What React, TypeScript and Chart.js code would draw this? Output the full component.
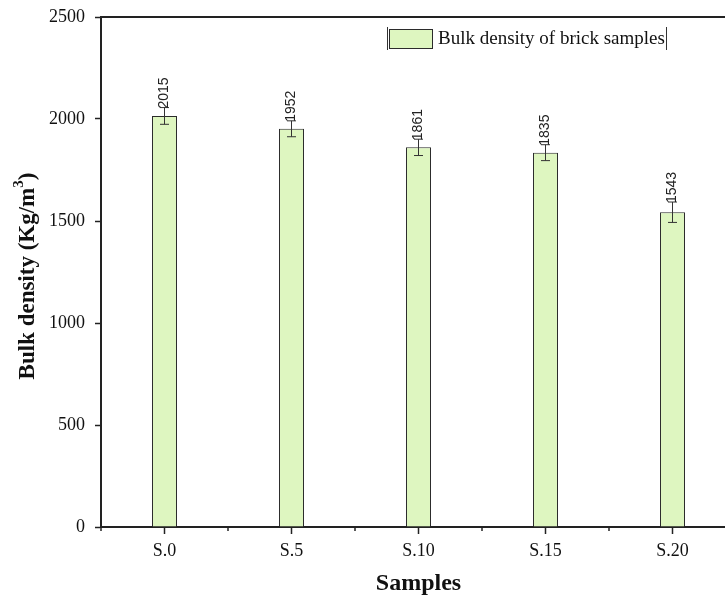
import React, { useEffect, useRef } from "react";
import { Chart, registerables } from "chart.js";

Chart.register(...registerables);

const categories = ["S.0", "S.5", "S.10", "S.15", "S.20"];
const bulkDensity = [2015, 1952, 1861, 1835, 1543];
const errorValues = [41, 39, 40, 39, 50];
const yMin = 0;
const yMax = 2500;
const yStep = 500;
const seriesLabel = "Bulk density of brick samples";
const xTitle = "Samples";
const yTitleMain = "Bulk density (Kg/m";
const yTitleSup = "3";
const yTitleEnd = ")";

const BAR_FILL = "rgb(222,246,192)";
const INK = "#222222";
const SERIF = "'Liberation Serif', 'Times New Roman', serif";
const SANS = "'Liberation Sans', Arial, sans-serif";

const overlay = {
  id: "overlay",
  afterDraw(chart: any) {
    const ctx = chart.ctx as CanvasRenderingContext2D;
    const area = chart.chartArea;
    const xs = chart.scales.x;
    const ys = chart.scales.y;
    ctx.save();

    // top spine and right spine
    ctx.strokeStyle = INK;
    ctx.lineWidth = 2;
    ctx.beginPath();
    ctx.moveTo(area.left - 1, area.top);
    ctx.lineTo(area.right, area.top);
    ctx.lineTo(area.right, area.bottom);
    ctx.stroke();

    // minor x ticks at category boundaries
    ctx.lineWidth = 1.5;
    for (let i = 0; i <= categories.length; i++) {
      const x = xs.getPixelForValue(i - 0.5);
      ctx.beginPath();
      ctx.moveTo(x, area.bottom);
      ctx.lineTo(x, area.bottom + 4);
      ctx.stroke();
    }

    // error bars and value labels
    const meta = chart.getDatasetMeta(0);
    meta.data.forEach((bar: any, i: number) => {
      const v = bulkDensity[i];
      const e = errorValues[i];
      const yTop = ys.getPixelForValue(v + e);
      const yBot = ys.getPixelForValue(v - e);
      const x = bar.x;
      ctx.strokeStyle = "#333";
      ctx.lineWidth = 1;
      ctx.beginPath();
      ctx.moveTo(x, yTop);
      ctx.lineTo(x, yBot);
      ctx.moveTo(x - 4.5, yTop);
      ctx.lineTo(x + 4.5, yTop);
      ctx.moveTo(x - 4.5, yBot);
      ctx.lineTo(x + 4.5, yBot);
      ctx.stroke();

      ctx.save();
      ctx.translate(x, yTop + 1);
      ctx.rotate(-Math.PI / 2);
      ctx.font = `14px ${SANS}`;
      ctx.fillStyle = "#222";
      ctx.textAlign = "left";
      ctx.textBaseline = "middle";
      ctx.fillText(String(v), 0, 0);
      ctx.restore();
    });

    // legend
    ctx.strokeStyle = "#333";
    ctx.lineWidth = 1;
    ctx.beginPath();
    ctx.moveTo(387.5, 27);
    ctx.lineTo(387.5, 50);
    ctx.moveTo(666.5, 27);
    ctx.lineTo(666.5, 50);
    ctx.stroke();
    ctx.fillStyle = BAR_FILL;
    ctx.fillRect(389.5, 29.5, 43, 19);
    ctx.strokeStyle = "#2b2b2b";
    ctx.strokeRect(389.5, 29.5, 43, 19);
    ctx.fillStyle = "#111";
    ctx.font = `19px ${SERIF}`;
    ctx.textAlign = "left";
    ctx.textBaseline = "middle";
    ctx.fillText(seriesLabel, 438, 39);

    // x title
    ctx.font = `bold 24px ${SERIF}`;
    ctx.textAlign = "center";
    ctx.textBaseline = "middle";
    ctx.fillText(xTitle, (area.left + area.right) / 2, 584);

    // y title with superscript
    const mainFont = `bold 23px ${SERIF}`;
    const supFont = `bold 15px ${SERIF}`;
    ctx.font = mainFont;
    const w1 = ctx.measureText(yTitleMain).width;
    const w3 = ctx.measureText(yTitleEnd).width;
    ctx.font = supFont;
    const w2 = ctx.measureText(yTitleSup).width;
    const total = w1 + w2 + w3;
    ctx.save();
    ctx.translate(28, 276);
    ctx.rotate(-Math.PI / 2);
    ctx.textAlign = "left";
    ctx.textBaseline = "middle";
    let cx = -total / 2;
    ctx.font = mainFont;
    ctx.fillText(yTitleMain, cx, 0);
    cx += w1;
    ctx.font = supFont;
    ctx.fillText(yTitleSup, cx, -9);
    cx += w2;
    ctx.font = mainFont;
    ctx.fillText(yTitleEnd, cx, 0);
    ctx.restore();

    ctx.restore();
  },
};

export default function App() {
  const ref = useRef<HTMLCanvasElement | null>(null);
  useEffect(() => {
    if (!ref.current) return;
    const chart = new Chart(ref.current, {
      type: "bar",
      data: {
        labels: categories,
        datasets: [
          {
            label: seriesLabel,
            data: bulkDensity,
            backgroundColor: BAR_FILL,
            borderColor: "#2b2b2b",
            borderWidth: 1,
            barPercentage: 1,
            categoryPercentage: 0.197,
          },
        ],
      },
      options: {
        responsive: false,
        animation: false,
        layout: { padding: { top: 17, right: 24, left: 0, bottom: 0 } },
        plugins: { legend: { display: false }, tooltip: { enabled: false } },
        scales: {
          x: {
            type: "category",
            offset: true,
            grid: {
              offset: false,
              drawOnChartArea: false,
              drawTicks: true,
              tickLength: 7,
              tickColor: INK,
              tickWidth: 1.5,
            },
            border: { display: true, color: INK, width: 2 },
            ticks: {
              font: { family: SERIF, size: 18 },
              color: "#111",
              padding: 6,
              maxRotation: 0,
            },
            afterFit: (s: any) => {
              s.height = 75;
              s.paddingLeft = 0;
              s.paddingRight = 0;
            },
          },
          y: {
            min: yMin,
            max: yMax,
            grid: {
              drawOnChartArea: false,
              drawTicks: true,
              tickLength: 6,
              tickColor: INK,
              tickWidth: 1.5,
            },
            border: { display: true, color: INK, width: 2 },
            ticks: {
              stepSize: yStep,
              font: { family: SERIF, size: 18 },
              color: "#111",
              padding: 10,
              callback: (v: any) => String(v),
            },
            afterFit: (s: any) => {
              s.width = 101;
              s.paddingTop = 0;
              s.paddingBottom = 0;
            },
          },
        },
      },
      plugins: [overlay],
    });
    return () => chart.destroy();
  }, []);
  return (
    <div
      style={{
        position: "absolute",
        left: 0,
        top: 0,
        width: 725,
        height: 602,
        overflow: "hidden",
        background: "#fff",
      }}
    >
      <canvas ref={ref} width={760} height={602} style={{ display: "block", width: 760, height: 602 }} />
    </div>
  );
}
